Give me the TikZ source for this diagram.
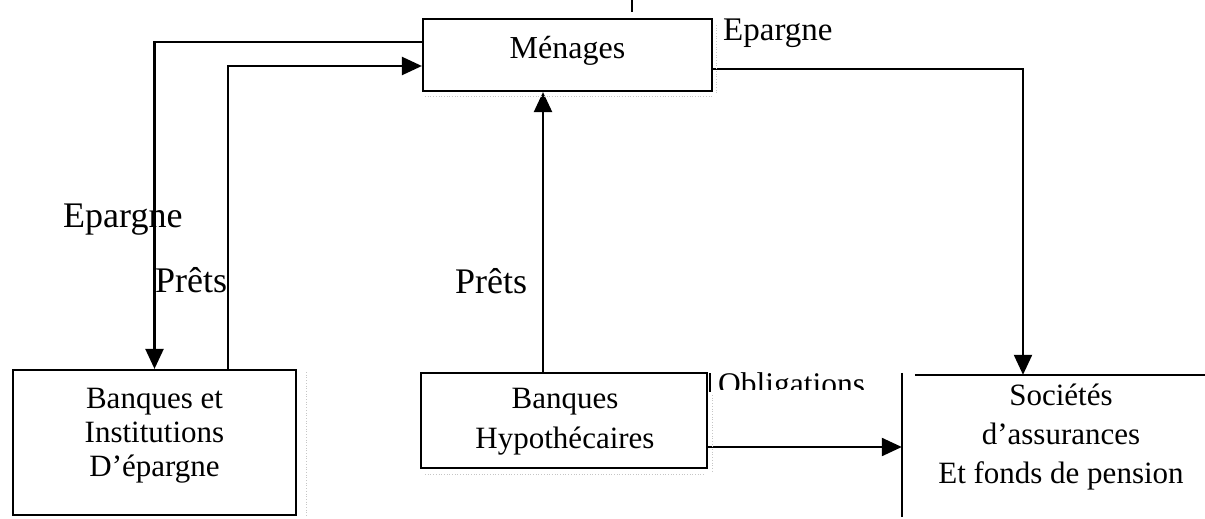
\documentclass[tikz,border=0pt]{standalone}
\usepackage{fontspec}
\setmainfont{Liberation Serif}
\usetikzlibrary{arrows.meta}
\begin{document}
\begin{tikzpicture}[x=1pt,y=-1pt,
  box/.style={draw,line width=2.2pt,inner sep=0pt},
  boxtext/.style={inner sep=0pt,align=center,font=\fontsize{31}{34}\selectfont},
  conn/.style={line width=2.3pt},
  arr/.style={conn,-{Triangle[length=20pt,width=18pt]}},
  lbl/.style={inner sep=0pt,anchor=base west},
  faint/.style={gray!45,dotted,line width=0.7pt}]
\useasboundingbox (0,0) rectangle (1205,519);

% the four institutions
\node[box,minimum width=289pt,minimum height=72pt] (men) at (567.5,55) {};
\node[boxtext,font=\fontsize{32}{34}\selectfont] (mentxt) at (567.5,51) {Ménages};
\node[box,minimum width=283pt,minimum height=145pt] (bie) at (154.5,442.5) {};
\node[boxtext,font=\fontsize{31}{34}\selectfont] (bietxt) at (154.5,436)
  {Banques et\\Institutions\\D’épargne};
\node[box,minimum width=286pt,minimum height=95pt] (hyp) at (564,420.5) {};
\node[boxtext,font=\fontsize{31}{40}\selectfont] (hyptxt) at (565,422)
  {Banques\\Hypothécaires};
\node[inner sep=0pt,minimum width=303pt,minimum height=144pt] (ass) at (1053.5,447) {};
\node[boxtext,font=\fontsize{31}{39}\selectfont] (asstxt) at (1061,437)
  {Sociétés\\d’assurances\\Et fonds de pension};
% open outline of the insurance box
\draw[conn] ([yshift=2pt]ass.north west) -- ([yshift=2pt]ass.south west);
\draw[conn] ([xshift=13pt]ass.north west) -- (ass.north east);

% flows
\draw[arr] ([yshift=13pt]men.west) -| (bie.north);
\draw[arr] ([xshift=73.5pt]bie.north) |- ([yshift=-11pt]men.west);
\draw[arr] ([xshift=-21pt]hyp.north) -- ([xshift=-21pt]hyp.north |- men.south);
\draw[arr] ([yshift=-14pt]men.east) -| ([xshift=-30.5pt]ass.north);
\draw[arr] ([yshift=-26.5pt]hyp.east) -- (ass.west);

% flow labels
\node[lbl,font=\fontsize{36}{38}\selectfont] (epg1) at (63,227) {Epargne};
\node[lbl,font=\fontsize{36}{38}\selectfont] (prt1) at (155,292) {Prêts};
\node[lbl,font=\fontsize{36}{38}\selectfont] (prt2) at (455,293) {Prêts};
\node[lbl,font=\fontsize{33}{35}\selectfont] (epg2) at (723,41) {Epargne};
\begin{scope}
  \clip (700,360) rectangle (900,389);
  \node[lbl,font=\fontsize{31.5}{34}\selectfont] (obl) at (718,394) {Obligations};
\end{scope}

% stray frame marks
\draw[line width=1.4pt] (632,0) -- (632,12);
\draw[line width=1.4pt] (710,373) -- (710,392);
\draw[faint] (425,96) -- (712,96);
\draw[faint] (716,25) -- (716,95);
\draw[faint] (306,372) -- (306,517);
\draw[faint] (425,474) -- (705,474);
\draw[faint] (712,395) -- (712,472);
\end{tikzpicture}
\end{document}
